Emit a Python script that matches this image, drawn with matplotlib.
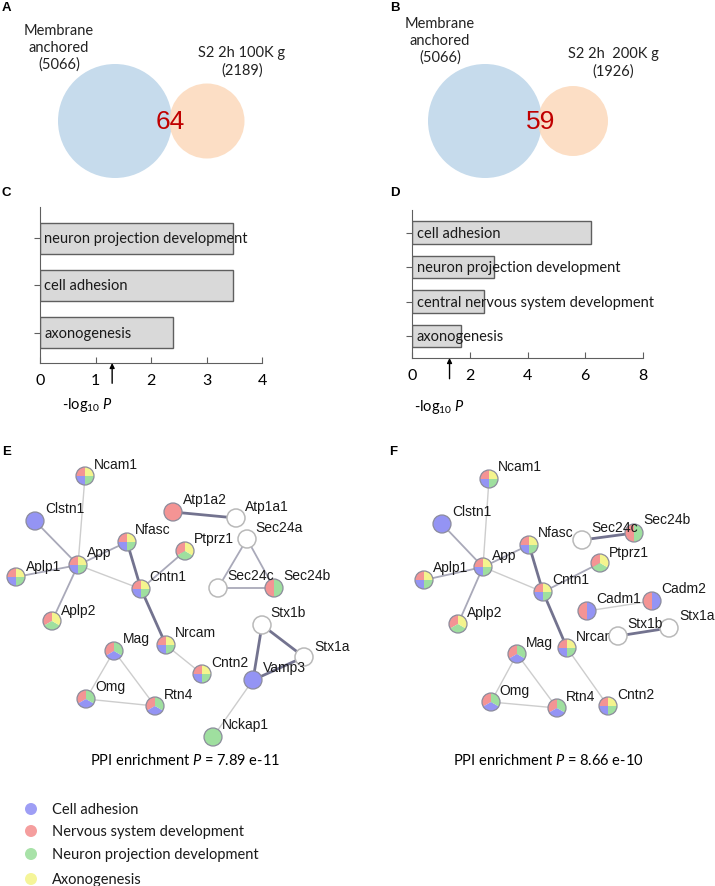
import matplotlib
matplotlib.use("Agg")
import matplotlib.pyplot as plt
from matplotlib.patches import Circle, Wedge

W, H = 715, 887

plt.rcParams["font.family"] = ["Lato", "DejaVu Sans"]
plt.rcParams["mathtext.fontset"] = "custom"
plt.rcParams["mathtext.rm"] = "Lato"
plt.rcParams["mathtext.it"] = "Lato:italic"

# Venn diagrams (A, B)
venn_sets_a = ["Membrane\nanchored\n(5066)", "S2 2h 100K g\n(2189)"]
venn_overlap_a = 64
venn_sets_b = ["Membrane\nanchored\n(5066)", "S2 2h  200K g\n(1926)"]
venn_overlap_b = 59

# GO enrichment (C, D)
go_terms_c = ["neuron projection development", "cell adhesion", "axonogenesis"]
go_logp_c = [3.47, 3.47, 2.40]
go_terms_d = ["cell adhesion", "neuron projection development",
              "central nervous system development", "axonogenesis"]
go_logp_d = [6.2, 2.85, 2.49, 1.69]
p_cutoff = 1.3

# PPI networks (E, F): node -> categories
# c = cell adhesion, n = nervous system dev, p = neuron projection dev, a = axonogenesis
nodes_e = {
    "Ncam1": "ncpa", "Clstn1": "c", "Atp1a2": "n", "Atp1a1": "", "Sec24a": "",
    "Nfasc": "ncpa", "Ptprz1": "npa", "App": "ncpa", "Aplp1": "ncpa",
    "Cntn1": "ncpa", "Sec24b": "np", "Sec24c": "", "Aplp2": "npa", "Stx1b": "",
    "Nrcam": "ncpa", "Mag": "ncp", "Stx1a": "", "Cntn2": "ncpa", "Vamp3": "c",
    "Omg": "ncp", "Rtn4": "ncp", "Nckap1": "p",
}
edges_e = [
    ("Ncam1", "App", 1), ("Clstn1", "App", 2), ("Aplp1", "App", 2),
    ("Aplp2", "App", 2), ("App", "Nfasc", 2), ("App", "Cntn1", 1),
    ("Nfasc", "Cntn1", 3), ("Cntn1", "Ptprz1", 2), ("Cntn1", "Nrcam", 3),
    ("Nrcam", "Cntn2", 1), ("Mag", "Omg", 1), ("Mag", "Rtn4", 1),
    ("Omg", "Rtn4", 1), ("Atp1a2", "Atp1a1", 3), ("Sec24a", "Sec24c", 2),
    ("Sec24a", "Sec24b", 2), ("Sec24c", "Sec24b", 2), ("Stx1b", "Vamp3", 3),
    ("Stx1b", "Stx1a", 3), ("Vamp3", "Stx1a", 3), ("Vamp3", "Nckap1", 1),
]
ppi_p_e = "7.89 e-11"

nodes_f = {
    "Ncam1": "ncpa", "Clstn1": "c", "Sec24b": "np", "Sec24c": "", "Nfasc": "ncpa",
    "Ptprz1": "npa", "App": "ncpa", "Aplp1": "ncpa", "Cntn1": "ncpa",
    "Cadm2": "nc", "Cadm1": "nc", "Aplp2": "npa", "Stx1a": "", "Nrcam": "ncpa",
    "Stx1b": "", "Mag": "ncp", "Omg": "ncp", "Rtn4": "ncp", "Cntn2": "ncpa",
}
edges_f = [
    ("Ncam1", "App", 1), ("Clstn1", "App", 2), ("Aplp1", "App", 2),
    ("Aplp2", "App", 2), ("App", "Nfasc", 2), ("App", "Cntn1", 1),
    ("Nfasc", "Cntn1", 3), ("Cntn1", "Ptprz1", 2), ("Cntn1", "Nrcam", 3),
    ("Nrcam", "Cntn2", 1), ("Mag", "Omg", 1), ("Mag", "Rtn4", 1),
    ("Omg", "Rtn4", 1), ("Sec24c", "Sec24b", 3), ("Cadm1", "Cadm2", 1),
    ("Stx1b", "Stx1a", 3),
]
ppi_p_f = "8.66 e-10"

legend_labels = ["Cell adhesion", "Nervous system development",
                 "Neuron projection development", "Axonogenesis"]
legend_keys = ["c", "n", "p", "a"]

# ---- layout (pixel positions of the reference figure) ----
pos_e = {
    "Ncam1": (85, 477), "Clstn1": (35, 522), "Atp1a2": (173, 513),
    "Atp1a1": (236, 519), "Sec24a": (247, 540), "Nfasc": (127, 543),
    "Ptprz1": (185, 552), "App": (78, 566), "Aplp1": (16, 578),
    "Cntn1": (141, 590), "Sec24c": (218, 589), "Sec24b": (274, 589),
    "Aplp2": (52, 622), "Stx1b": (262, 626), "Nrcam": (166, 646),
    "Mag": (114, 652), "Stx1a": (304, 658), "Cntn2": (202, 675),
    "Vamp3": (253, 681), "Omg": (86, 700), "Rtn4": (155, 707),
    "Nckap1": (213, 738),
}
lab_e = {
    "Ncam1": (94, 465), "Clstn1": (45, 509), "Atp1a2": (183, 500),
    "Atp1a1": (245, 507), "Sec24a": (255, 528), "Nfasc": (135, 530),
    "Ptprz1": (194, 539), "App": (87, 553), "Aplp1": (26, 567),
    "Cntn1": (149, 577), "Sec24c": (227, 576), "Sec24b": (283, 576),
    "Aplp2": (61, 611), "Stx1b": (270, 613), "Nrcam": (175, 633),
    "Mag": (123, 639), "Stx1a": (314, 647), "Cntn2": (211, 663),
    "Vamp3": (263, 668), "Omg": (95, 687), "Rtn4": (164, 695),
    "Nckap1": (222, 725),
}
pos_f = {
    "Ncam1": (489, 480), "Clstn1": (442, 525), "Sec24c": (582, 541),
    "Sec24b": (634, 534), "Nfasc": (529, 546), "Ptprz1": (600, 564),
    "App": (483, 568), "Aplp1": (424, 581), "Cntn1": (543, 593),
    "Cadm1": (587, 612), "Cadm2": (652, 602), "Aplp2": (458, 625),
    "Stx1b": (618, 637), "Stx1a": (669, 629), "Nrcam": (567, 649),
    "Mag": (517, 655), "Omg": (491, 703), "Rtn4": (557, 709),
    "Cntn2": (608, 707),
}
lab_f = {
    "Ncam1": (498, 467), "Clstn1": (452, 512), "Sec24b": (643, 520),
    "Sec24c": (591, 528), "Nfasc": (538, 533), "Ptprz1": (609, 553),
    "App": (492, 556), "Aplp1": (433, 568), "Cntn1": (552, 580),
    "Cadm2": (661, 589), "Cadm1": (596, 599), "Aplp2": (467, 613),
    "Stx1a": (679, 616), "Stx1b": (627, 624), "Nrcam": (576, 637),
    "Mag": (526, 643), "Omg": (499, 691), "Rtn4": (566, 697),
    "Cntn2": (617, 695),
}

cat_colors = {"c": "#9494f4", "n": "#f49494", "p": "#9fdf9f", "a": "#f4f48e"}
edge_styles = {1: ("#cdcdcd", 1.0), 2: ("#a9a9b9", 1.3), 3: ("#73738f", 2.0)}
NET_FONT = ["Liberation Sans", "DejaVu Sans"]

fig = plt.figure(figsize=(W / 100, H / 100), dpi=100)


def bar_panel(rect, terms, values, xmax, xticks, arrow_len):
    ax = fig.add_axes([rect[0] / W, 1 - rect[3] / H, (rect[2] - rect[0]) / W,
                       (rect[3] - rect[1]) / H])
    ypos = list(range(len(terms)))
    ax.barh(ypos, values, height=0.66, color="#d9d9d9", edgecolor="#5f5f5f",
            linewidth=1.0)
    for y, t in zip(ypos, terms):
        ax.text(0.08 * xmax / 4, y, t, va="center", ha="left", fontsize=10.5,
                color="#1a1a1a")
    ax.set_xlim(0, xmax)
    ax.set_ylim(len(terms) - 1 + 0.64, -0.66)
    ax.set_xticks(xticks)
    ax.set_yticks(ypos)
    ax.set_yticklabels([])
    ax.tick_params(axis="x", direction="in", length=4, pad=7, labelsize=11.5,
                   color="#5f5f5f")
    ax.tick_params(axis="y", direction="out", length=4, color="#5f5f5f")
    for s in ("top", "right"):
        ax.spines[s].set_visible(False)
    for s in ("left", "bottom"):
        ax.spines[s].set_color("#5f5f5f")
    ax.patch.set_alpha(0)
    ax.annotate("", xy=(p_cutoff, 0), xycoords=("data", "axes fraction"),
                xytext=(p_cutoff, -arrow_len), textcoords=("data", "axes fraction"),
                arrowprops=dict(arrowstyle="-|>", color="black", lw=1.0,
                                mutation_scale=7, shrinkA=0, shrinkB=0),
                annotation_clip=False)
    return ax


bar_panel((40, 208, 262, 364), go_terms_c, go_logp_c, 4, [0, 1, 2, 3, 4], 0.13)
bar_panel((412, 211, 643, 359), go_terms_d, go_logp_d, 8, [0, 2, 4, 6, 8], 0.14)

ov = fig.add_axes([0, 0, 1, 1])
ov.set_xlim(0, W)
ov.set_ylim(H, 0)
ov.axis("off")
ov.patch.set_alpha(0)

# panel letters
for letter, x, y in [("A", 2, 8), ("B", 390, 8), ("C", 2, 193), ("D", 390, 193),
                     ("E", 2, 452), ("F", 389, 452)]:
    ov.text(x, y, letter, fontsize=9.5, fontweight="bold", va="center",
            ha="left", family=NET_FONT)


def venn(cx1, r1, cx2, r2, cy, overlap, labels, lab1, lab2, numx):
    ov.add_patch(Circle((cx1, cy), r1, fc="#c6dbec", ec="none", zorder=1))
    ov.add_patch(Circle((cx2, cy), r2, fc="#fcd9bb", ec="none", alpha=0.85,
                        zorder=2))
    ov.text(numx, cy, str(overlap), color="#c00000", fontsize=19, ha="center",
            va="center", family=NET_FONT, zorder=3)
    ov.text(lab1[0], lab1[1], labels[0], ha="center", va="center",
            fontsize=10.5, linespacing=1.25, color="#222222")
    ov.text(lab2[0], lab2[1], labels[1], ha="center", va="center",
            fontsize=10.5, linespacing=1.25, color="#222222")


venn(115, 57, 207, 37.5, 122, venn_overlap_a, venn_sets_a, (59, 48), (242, 62), 170)
venn(485, 57, 573, 35, 122, venn_overlap_b, venn_sets_b, (440, 41), (613, 63), 541)

ov.text(88, 405, r"-log$_{10}$ $P$", ha="center", va="center", fontsize=10.5)
ov.text(440, 407, r"-log$_{10}$ $P$", ha="center", va="center", fontsize=10.5)


def draw_network(nodes, edges, pos, lab):
    for a, b, w in edges:
        col, lw = edge_styles[w]
        (x1, y1), (x2, y2) = pos[a], pos[b]
        ov.plot([x1, x2], [y1, y2], color=col, lw=lw, zorder=2,
                solid_capstyle="butt")
    r = 9
    for i, (name, cats) in enumerate(nodes.items()):
        z = 3 + 2 * i
        x, y = pos[name]
        if not cats:
            ov.add_patch(Circle((x, y), r, fc="white", ec="#b9b9b9", lw=1.1,
                                zorder=z))
        else:
            order = [c for c in "ncpa" if c in cats]
            step = 360 / len(order)
            for k, c in enumerate(order):
                t1 = 90 + k * step
                t2 = t1 + step
                ov.add_patch(Wedge((x, y), r, -t2, -t1, fc=cat_colors[c],
                                   ec="none", zorder=z))
            ov.add_patch(Circle((x, y), r, fc="none", ec="#8c8c9c", lw=0.9,
                                zorder=z))
        lx, ly = lab[name]
        ov.text(lx, ly, name, fontsize=10, ha="left", va="center",
                family=NET_FONT, color="#1a1a1a", zorder=z + 1)


draw_network(nodes_e, edges_e, pos_e, lab_e)
draw_network(nodes_f, edges_f, pos_f, lab_f)

ov.text(185, 761, "PPI enrichment $P$ = " + ppi_p_e, ha="center", va="center",
        fontsize=10.5)
ov.text(548, 761, "PPI enrichment $P$ = " + ppi_p_f, ha="center", va="center",
        fontsize=10.5)

for i, (lbl, key) in enumerate(zip(legend_labels, legend_keys)):
    y = [810, 832, 855, 880][i]
    ov.add_patch(Circle((31, y), 6, fc=cat_colors[key], ec="none", alpha=0.9))
    ov.text(52, y, lbl, ha="left", va="center", fontsize=10.5, color="#1a1a1a")

fig.savefig("out.png", dpi=100)
